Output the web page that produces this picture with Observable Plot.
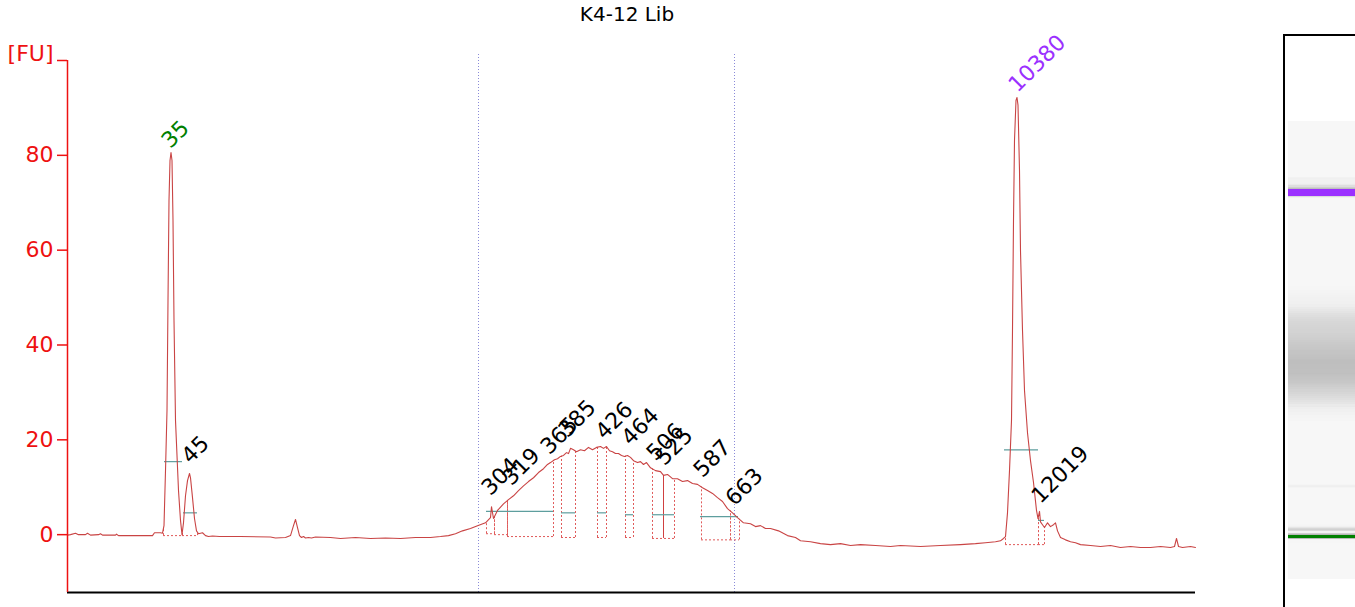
<!DOCTYPE html>
<html><head><meta charset="utf-8">
<script src="https://cdn.jsdelivr.net/npm/d3@7"></script>
<script src="https://cdn.jsdelivr.net/npm/@observablehq/plot@0.6"></script>
<style>
body{margin:0;background:#fff;}
#wrap{position:relative;width:1355px;height:607px;overflow:hidden;font-family:"DejaVu Sans",sans-serif;background:#fff;}
#title{position:absolute;left:0;top:2px;width:1254px;text-align:center;font-size:20px;line-height:24px;color:#000;}
#main{position:absolute;left:0;top:0;}
#gelbox{position:absolute;left:1283px;top:34px;width:110px;height:620px;border:2px solid #000;background:#fff;}
#gel{position:absolute;left:0;top:0;}
</style></head>
<body>
<div id="wrap"><div id="title">K4-12 Lib</div><div id="main"></div><div id="gelbox"><div id="gel"></div></div></div>
<script>
// Electropherogram trace: [time (arbitrary units), fluorescence FU]
const trace = [
[0,-0.1],[3,0.0],[8,0.3],[11,0.0],[18,0.0],[20,0.3],[23,-0.1],[31,0.0],[33,0.2],[35,-0.1],
[48,-0.1],[49,0.1],[51,-0.2],[85,-0.2],[87,0.4],[93,0.4],[95,0.3],[96.5,1.9],[98,13.5],[99.5,26.2],
[100.5,49.4],[101.5,70.5],[102.5,78.9],[103.5,80.6],[104.5,78.9],[105.5,66.3],[106.5,45.2],[108,24.1],[109.5,16.7],[111,9.3],
[113,3.0],[114.5,0.0],[116,2.5],[118,8.2],[120,11.4],[122,12.9],[123,12.0],[125,7.8],[127,3.4],[129,0.8],
[131,0.2],[135,0.4],[138,-0.2],[141,-0.4],[145,-0.3],[152,-0.4],[173,-0.4],[203,-0.5],[208,-0.7],[218,-0.6],
[223,-0.2],[226,1.9],[228,3.2],[230,1.5],[232,-0.2],[234,-0.6],[236,-0.4],[238,-0.7],[241,-0.6],[244,-0.7],
[248,-0.5],[263,-0.6],[273,-0.8],[288,-0.6],[303,-0.8],[318,-0.7],[333,-0.8],[348,-0.6],[363,-0.6],[373,-0.4],
[381,-0.2],[388,0.2],[395,0.8],[403,1.3],[410,1.9],[418,2.5],[423,3.6],[424,5.9],[426,3.4],[430,5.1],
[436,6.5],[441,7.4],[446,8.2],[451,9.3],[456,10.3],[461,11.2],[466,12.0],[471,13.1],[476,13.9],[480,14.8],
[483,15.2],[487,15.8],[490,16.0],[493,16.5],[496,16.7],[499,17.3],[501,17.1],[503,18.2],[506,17.9],[509,17.5],
[513,17.9],[517,17.7],[521,18.4],[525,17.9],[529,18.4],[533,18.6],[536,18.2],[539,18.6],[542,17.7],[545,17.5],
[548,17.1],[551,17.1],[554,16.7],[557,16.5],[560,16.7],[563,16.3],[566,15.6],[570,15.2],[573,15.4],[576,14.8],
[579,15.2],[583,14.1],[588,13.5],[593,13.3],[596,12.5],[600,12.7],[605,11.8],[610,11.8],[615,11.2],[620,11.4],
[625,10.8],[630,10.6],[635,9.9],[640,9.3],[645,8.7],[650,7.8],[655,7.0],[660,5.5],[665,4.6],[670,3.6],
[676,2.5],[683,2.3],[688,1.7],[693,1.9],[698,1.3],[703,1.3],[711,0.8],[720,-0.2],[728,-0.6],[733,-1.3],
[743,-1.5],[753,-1.9],[763,-2.1],[773,-1.9],[783,-2.3],[793,-2.1],[808,-2.3],[823,-2.5],[833,-2.3],[853,-2.5],
[873,-2.3],[893,-2.1],[908,-1.9],[918,-1.7],[928,-1.5],[933,-1.3],[936,-0.8],[938,-0.4],[940,4.6],[942,13.5],
[944,24.1],[945,43.1],[946,66.3],[947,83.2],[948.5,91.6],[949.5,92.2],[950.5,90.6],[952,76.8],[953,59.9],[955,43.1],
[957,30.4],[960,21.5],[963,15.6],[966,11.0],[969,5.1],[970.5,3.4],[972,4.9],[973,2.7],[975,2.1],[977,1.5],
[980,2.5],[983,1.7],[986,2.1],[988,2.5],[990,0.8],[993,-0.6],[998,-1.1],[1003,-1.5],[1008,-1.7],[1013,-2.1],
[1023,-2.3],[1033,-2.5],[1043,-2.3],[1053,-2.7],[1063,-2.5],[1073,-2.7],[1083,-2.7],[1093,-2.5],[1103,-2.7],[1107,-2.5],
[1109,-0.8],[1111,-2.5],[1115,-2.7],[1123,-2.5],[1128,-2.7]
];

// Peak size labels: [text, time, label height FU, color]
const peakLabels = [
["35",102,81.9,"#008000"],["45",122,15.4,"#000"],["304",422,8.7,"#000"],["319",443,10.8,"#000"],
["365",481,17.3,"#000"],["385",499,20.9,"#000"],["426",536,20.5,"#000"],["464",562,19.2,"#000"],
["506",587,16.0,"#000"],["525",596,15.0,"#000"],["587",634,12.5,"#000"],["663",666,6.5,"#000"],
["10380",949,93.7,"#9b30ff"],["12019",972,7.0,"#000"]
];

// Peak integration windows: [start time, end time, baseline FU]
const peakWindows = [
[96,115,-0.2],[115,130,-0.2],[419,427,0.2],[427,440,0.0],[440,486,-0.4],
[494,508,-0.6],[530,539,-0.6],[558,566,-0.6],[585,607,-0.8],
[634,663,-1.1],[663,672,-1.1],[938,971,-2.1],[971,977,-2.1]
];
// Peak width lines: [start time, end time, FU]
const widthLines = [
[97,115,15.4],[116,130,4.6],[419,486,4.9],[494,508,4.6],[530,539,4.6],
[558,566,4.2],[585,607,4.2],[633,671,3.8],[937,971,17.9],[971,977,3.0]
];
// Peak split line: [time, baseline FU]
const splitLines = [[596,-0.8]];
// Region of interest boundaries (time)
const regionBounds = [411,667];
// Y ticks
const yTicks = [0,20,40,60,80,100];
const yDomain = [-12.2,100];
const xDomain = [0,1128];

const pts = trace.map(([t,v]) => ({t, v}));
const bis = d3.bisector(d => d.t).left;
function curveAt(t){
  let i = bis(pts, t);
  if (i <= 0) return pts[0].v;
  if (i >= pts.length) return pts[pts.length-1].v;
  const a = pts[i-1], b = pts[i];
  return a.v + (b.v - a.v) * (t - a.t) / (b.t - a.t);
}
const win = peakWindows.map(([t0,t1,base]) => ({t0,t1,base}));
const wl = widthLines.map(([t0,t1,h]) => ({t0,t1,h}));
const labs = peakLabels.map(([text,t,v,color]) => ({text,t,v,color}));
const FONT = "DejaVu Sans, sans-serif";
const boxColor = "#e05a5a";

const main = Plot.plot({
  width: 1283, height: 607,
  marginLeft: 67, marginRight: 88, marginTop: 60, marginBottom: 15,
  x: {domain: xDomain, axis: null},
  y: {domain: yDomain},
  style: {fontFamily: FONT, background: "transparent", overflow: "visible"},
  marks: [
    Plot.ruleX(regionBounds, {y1: yDomain[0], y2: 101.6, stroke: "#8a8ad8", strokeWidth: 1, strokeDasharray: "1,2", clip: false}),
    Plot.ruleY(win, {x1: "t0", x2: "t1", y: "base", stroke: boxColor, strokeWidth: 1, strokeDasharray: "2,2"}),
    Plot.ruleX(win, {x: "t0", y1: "base", y2: d => curveAt(d.t0), stroke: boxColor, strokeWidth: 1, strokeDasharray: "2,2"}),
    Plot.ruleX(win, {x: "t1", y1: "base", y2: d => curveAt(d.t1), stroke: boxColor, strokeWidth: 1, strokeDasharray: "2,2"}),
    Plot.ruleX(splitLines, {x: d => d[0], y1: d => d[1], y2: d => curveAt(d[0]), stroke: "#d04040", strokeWidth: 1}),
    Plot.ruleY(wl, {x1: "t0", x2: "t1", y: "h", stroke: "#5e9e9e", strokeWidth: 1.2}),
    Plot.line(pts, {x: "t", y: "v", stroke: "#c94444", strokeWidth: 1.1}),
    Plot.ruleY([yDomain[0]], {stroke: "#000", strokeWidth: 2}),
    Plot.ruleX([xDomain[0]], {y1: yDomain[0], y2: yDomain[1], stroke: "#ee1111", strokeWidth: 1.5}),
    Plot.axisY({ticks: yTicks, tickFormat: d => d === 100 ? "" : String(d), tickSize: 10, tickPadding: 4,
      stroke: "#ee1111", fill: "#ee1111", fontSize: 22, label: null, strokeWidth: 1.5}),
    Plot.text(["[FU]"], {x: () => xDomain[0], y: () => yTicks[yTicks.length-1], text: d => d, textAnchor: "end",
      dx: -14, dy: -7, fill: "#ee1111", fontSize: 22}),
    Plot.text(labs, {x: "t", y: "v", text: "text", fill: "color", rotate: -45, textAnchor: "start",
      lineAnchor: "bottom", dx: 1, dy: 3, fontSize: 22})
  ]
});
document.getElementById("main").appendChild(main);

// Gel lane derived from the trace
const markerLabels = labs.filter(d => d.color !== "#000");
const grayScale = d3.scaleLinear().domain([0, 80]).range(["#f7f7f7", "#000000"]).clamp(true);
const segs = d3.pairs(pts).map(([a, b]) => {
  const v = Math.max(0, (a.v + b.v) / 2);
  const m = markerLabels.find(k => Math.abs(k.t - (a.t + b.t) / 2) < 15);
  const fill = (m && v > 25) ? m.color : grayScale(v);
  return {t0: a.t, t1: b.t, fill};
});
const gel = Plot.plot({
  width: 110, height: 584, margin: 0,
  x: {domain: [0, 1], range: [3, 110], axis: null},
  y: {domain: xDomain, range: [542.5, 85], axis: null},
  style: {background: "transparent"},
  marks: [
    Plot.rect(segs, {x1: () => 0, x2: () => 1, y1: "t0", y2: "t1", fill: "fill", shapeRendering: "crispEdges"})
  ]
});
document.getElementById("gel").appendChild(gel);
</script>
</body></html>
